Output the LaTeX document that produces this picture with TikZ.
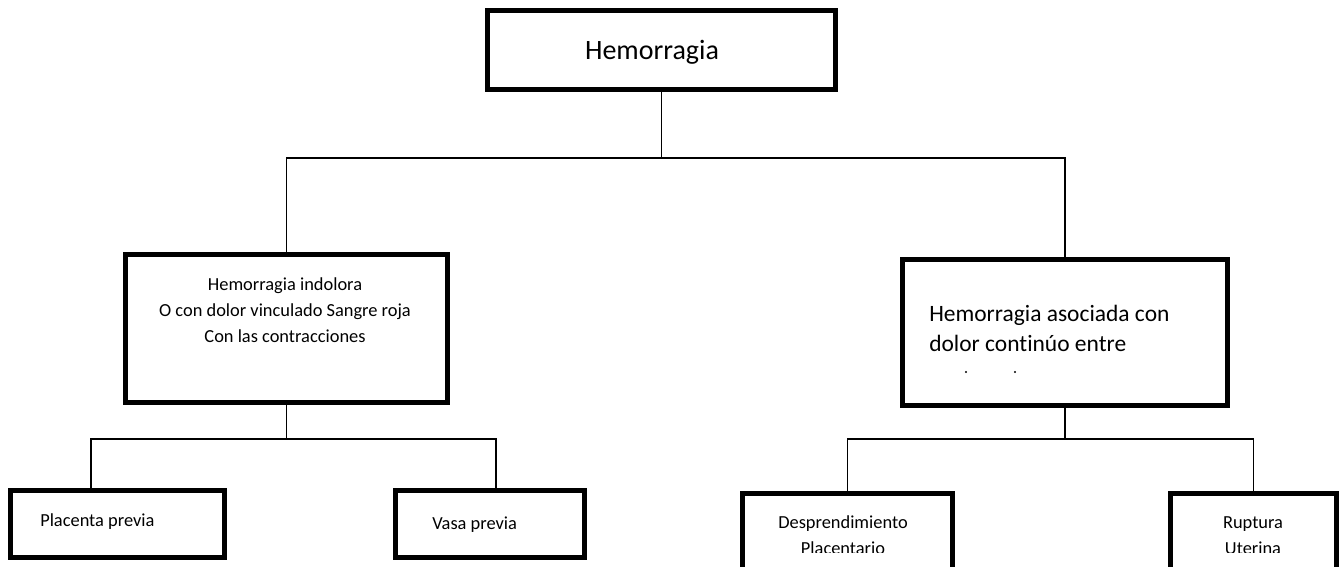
\documentclass[tikz,border=0pt]{standalone}
\usepackage{fontspec}
\setmainfont{Carlito}[Ligatures=NoCommon]
\usetikzlibrary{positioning}

\begin{document}
\begin{tikzpicture}[
  x=0.75pt,y=-0.75pt,
  thickbox/.style={draw,line width=3.75pt,inner sep=0pt},
  link/.style={draw,line width=1pt},
  txtbig/.style={font=\fontsize{21}{25}\selectfont,inner sep=0pt},
  txtmid/.style={font=\fontsize{17.6}{22.5}\selectfont,align=left,inner sep=0pt},
  txtsmall/.style={font=\fontsize{13.8}{19.5}\selectfont,align=center,inner sep=0pt},
  ]
  \useasboundingbox (0,0) rectangle (1341,567);
  \clip (0,0) rectangle (1341,567);

  % boxes
  \node[thickbox,minimum width=261pt,minimum height=59.25pt]
    (root) at (661.5,50) {};
  \node[thickbox,minimum width=241.5pt,minimum height=111pt]
    (ind) at (286.5,328.5) {};
  \node[thickbox,minimum width=243.75pt,minimum height=109.5pt]
    (asoc) at (1065,332.5) {};
  \node[thickbox,minimum width=160.5pt,minimum height=50.25pt]
    (pp) at (117.5,524) {};
  \node[thickbox,minimum width=141.75pt,minimum height=50.25pt]
    (vp) at (490,524) {};
  \node[thickbox,minimum width=157.5pt,minimum height=79.875pt]
    (dp) at (847.5,546.75) {};
  \node[thickbox,minimum width=124.5pt,minimum height=79.875pt]
    (ru) at (1253.5,546.75) {};

  % texts
  \node[txtbig] (roottxt) at (652,52) {Hemorragia};
  \node[txtsmall] (indtxt) at (285,310)
    {Hemorragia indolora\\O con dolor vinculado Sangre roja\\Con las contracciones};
  \node[txtmid,anchor=west] (asoctxt) at (929,328)
    {Hemorragia asociada con\\dolor contin\'uo entre};
  \fill (966,372) circle (1.2);
  \fill (1015,372) circle (1.2);
  \node[txtsmall,anchor=west] (pptxt) at (40,522) {Placenta previa};
  \node[txtsmall,anchor=west] (vptxt) at (432,525) {Vasa previa};
  \begin{scope}
    \clip (0,0) rectangle (1341,552);
    \node[txtsmall] (dptxt) at (843,535) {Desprendimiento\\Placentario};
    \node[txtsmall] (rutxt) at (1253,536) {Ruptura\\Uterina};
  \end{scope}

  % connectors
  \coordinate (hub1) at (661.5,158);
  \draw[link] (root.south) -- (hub1);
  \draw[link] (ind.north) |- (hub1) -| (asoc.north);

  \coordinate (hub2) at (286.5,439);
  \coordinate (ppjoin) at (91,490.5);
  \coordinate (vpjoin) at (496,490.5);
  \draw[link] (ind.south) -- (hub2);
  \draw[link] (ppjoin) |- (hub2) -| (vpjoin);

  \coordinate (hub3) at (1065,439);
  \draw[link] (asoc.south) -- (hub3);
  \draw[link] (dp.north) |- (hub3) -| (ru.north);
\end{tikzpicture}
\end{document}
